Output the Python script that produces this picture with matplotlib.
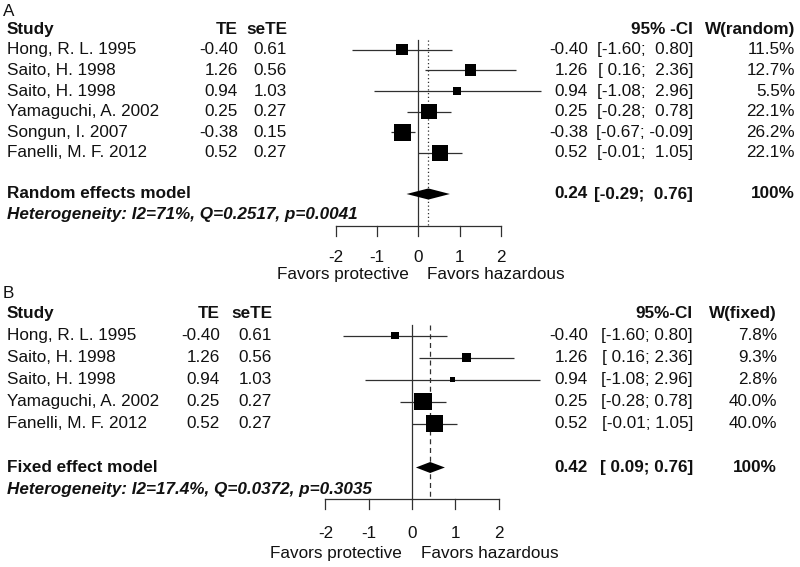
import numpy as np
import matplotlib.pyplot as plt
from matplotlib.patches import Polygon
import matplotlib.transforms as mtransforms

plt.rcParams['font.family'] = ['Liberation Sans', 'DejaVu Sans']

# ---- panel A: random effects ----
studies_a = ["Hong, R. L. 1995", "Saito, H. 1998", "Saito, H. 1998",
             "Yamaguchi, A. 2002", "Songun, I. 2007", "Fanelli, M. F. 2012"]
te_a = [-0.40, 1.26, 0.94, 0.25, -0.38, 0.52]
sete_a = [0.61, 0.56, 1.03, 0.27, 0.15, 0.27]
lo_a = [-1.60, 0.16, -1.08, -0.28, -0.67, -0.01]
hi_a = [0.80, 2.36, 2.96, 0.78, -0.09, 1.05]
w_a = [11.5, 12.7, 5.5, 22.1, 26.2, 22.1]
pooled_a = [0.24, -0.29, 0.76]
het_a = "Heterogeneity: I2=71%, Q=0.2517, p=0.0041"

# ---- panel B: fixed effect ----
studies_b = ["Hong, R. L. 1995", "Saito, H. 1998", "Saito, H. 1998",
             "Yamaguchi, A. 2002", "Fanelli, M. F. 2012"]
te_b = [-0.40, 1.26, 0.94, 0.25, 0.52]
sete_b = [0.61, 0.56, 1.03, 0.27, 0.27]
lo_b = [-1.60, 0.16, -1.08, -0.28, -0.01]
hi_b = [0.80, 2.36, 2.96, 0.78, 1.05]
w_b = [7.8, 9.3, 2.8, 40.0, 40.0]
pooled_b = [0.42, 0.09, 0.76]
het_b = "Heterogeneity: I2=17.4%, Q=0.0372, p=0.3035"

ticks = [-2, -1, 0, 1, 2]

W, H = 800, 567
fig = plt.figure(figsize=(8, 5.67), dpi=100)
FS = 12.3
LC = "#303030"
TC = "#111111"


def fmt_ci(lo, hi):
    los = ["%.2f" % v for v in lo]
    his = ["%.2f" % v for v in hi]
    n1 = max(len(s) for s in los)
    n2 = max(len(s) for s in his)
    return ["[%s; %s]" % (a.rjust(n1), b.rjust(n2)) for a, b in zip(los, his)]


def forest(p):
    top, bot, y0, sp = p["top"], p["bot"], p["y0"], p["sp"]
    zero, unit = p["zero"], p["unit"]
    row = lambda px: 1 + (px - y0) / sp
    ax = fig.add_axes([0, 1 - bot / H, 1, (bot - top) / H])
    ax.set_xlim(-zero / unit, (W - zero) / unit)
    ax.set_ylim(row(bot), row(top))
    ax.axis("off")
    tr = mtransforms.blended_transform_factory(fig.transFigure, ax.transData)
    X = lambda px: px / W

    n = len(p["names"])
    rows = np.arange(1, n + 1)
    r_pool = n + 2
    r_het = n + 3
    r_axis = row(p["axis"])

    # panel letter
    ax.text(X(3), row(p["letter"]), p["tag"], transform=tr, ha="left",
            va="center", fontsize=FS, color=TC)
    # header
    c = p["cols"]
    hdr = dict(transform=tr, va="center", fontsize=FS, fontweight="bold",
               color=TC)
    ax.text(X(c[0]), 0, "Study", ha="left", **hdr)
    ax.text(X(c[1]), 0, "TE", ha="right", **hdr)
    ax.text(X(c[2]), 0, "seTE", ha="right", **hdr)
    ax.text(X(c[4]), 0, p["cilab"], ha="right", **hdr)
    ax.text(X(c[5]), 0, p["wlab"], ha="right", **hdr)

    cis = fmt_ci(p["lo"] + [p["pool"][1]], p["hi"] + [p["pool"][2]])
    body = dict(transform=tr, va="center", fontsize=FS, color=TC)
    for i in range(n):
        r = rows[i]
        ax.text(X(c[0]), r, p["names"][i], ha="left", **body)
        ax.text(X(c[1]), r, "%.2f" % p["te"][i], ha="right", **body)
        ax.text(X(c[2]), r, "%.2f" % p["se"][i], ha="right", **body)
        ax.text(X(c[3]), r, "%.2f" % p["te"][i], ha="right", **body)
        ax.text(X(c[4]), r, cis[i], ha="right", **body)
        ax.text(X(c[5]), r, "%.1f%%" % p["w"][i], ha="right", **body)

    # summary row
    ax.text(X(c[0]), r_pool, p["model"], ha="left", **hdr)
    ax.text(X(c[3]), r_pool, "%.2f" % p["pool"][0], ha="right", **hdr)
    ax.text(X(c[4]), r_pool, cis[-1], ha="right", **hdr)
    ax.text(X(c[5]), r_pool, "100%", ha="right", **hdr)
    ax.text(X(c[0]), r_het, p["het"], ha="left", style="italic", **hdr)

    # reference lines
    ax.plot([0, 0], [0.5, r_axis], color=LC, lw=0.9)
    ax.plot([p["pool"][0]] * 2, [0.5, r_axis], color=LC, lw=0.9,
            linestyle=p["ls"])

    # CI lines and squares
    ax.hlines(rows, p["lo"], p["hi"], color=LC, lw=0.9)
    w = np.array(p["w"])
    side_px = np.maximum(p["smax"] * np.sqrt(w / w.max()), 5.5)
    ax.scatter(p["te"], rows, s=(side_px * 0.72) ** 2, marker="s",
               color="black", linewidths=0, zorder=3)

    # diamond
    est, lo, hi = p["pool"]
    h = p["dh"]
    ax.add_patch(Polygon([[lo, r_pool], [est, r_pool - h], [hi, r_pool],
                          [est, r_pool + h]], closed=True, color="black",
                         lw=0, zorder=3))

    # x axis
    tl = 9.5 / sp
    ax.plot([ticks[0], ticks[-1]], [r_axis, r_axis], color=LC, lw=0.9)
    for t in ticks:
        ax.plot([t, t], [r_axis, r_axis + tl], color=LC, lw=0.9)
        ax.text(t, row(p["tickl"]), "%d" % t, ha="center", va="center",
                fontsize=FS, color=TC)
    ax.text(-0.23, row(p["fav"]), "Favors protective", ha="right",
            va="center", fontsize=FS, color=TC)
    ax.text(0.2, row(p["fav"]), "Favors hazardous", ha="left",
            va="center", fontsize=FS, color=TC)


forest(dict(tag="A", top=0, bot=283, y0=49.8, sp=20.6, zero=418.5, unit=41.3,
            letter=11, axis=226, tickl=257.5, fav=274.5,
            names=studies_a, te=te_a, se=sete_a, lo=lo_a, hi=hi_a, w=w_a,
            pool=pooled_a, het=het_a, model="Random effects model",
            cilab="95% -CI", wlab="W(random)", ls=(0, (1, 2)),
            cols=[7, 238, 287, 588, 693, 795], smax=17.0, dh=0.27))

forest(dict(tag="B", top=283, bot=567, y0=335.5, sp=22.0, zero=412, unit=43.3,
            letter=293, axis=499, tickl=533.5, fav=553.5,
            names=studies_b, te=te_b, se=sete_b, lo=lo_b, hi=hi_b, w=w_b,
            pool=pooled_b, het=het_b, model="Fixed effect model",
            cilab="95%-CI", wlab="W(fixed)", ls=(0, (4, 3)),
            cols=[7, 220, 272, 588, 693, 777], smax=17.7, dh=0.25))

fig.savefig("out.png", dpi=100)
